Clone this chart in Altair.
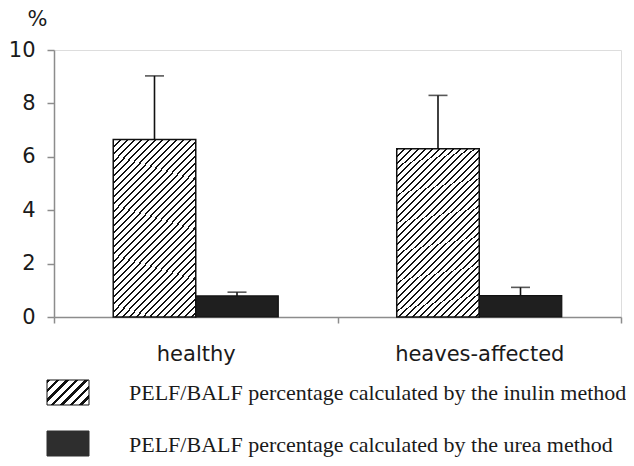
import altair as alt
import pandas as pd

# ---- data ----
groups = ["healthy", "heaves-affected"]
methods = ["inulin", "urea"]
mean_inulin = [6.65, 6.30]
upper_inulin = [9.03, 8.30]
mean_urea = [0.79, 0.80]
upper_urea = [0.93, 1.11]
legend_labels = [
    "PELF/BALF percentage calculated by the inulin method",
    "PELF/BALF percentage calculated by the urea method",
]
y_ticks = [0, 2, 4, 6, 8, 10]

rows = []
for g, m, u in zip(groups, mean_inulin, upper_inulin):
    rows.append({"group": g, "method": "inulin", "value": m, "upper": u})
for g, m, u in zip(groups, mean_urea, upper_urea):
    rows.append({"group": g, "method": "urea", "value": m, "upper": u})
df = pd.DataFrame(rows)
leg_df = pd.DataFrame({"method": methods, "label": legend_labels})


def hatch(w, h, period, line, ink="#111111", bg="#ffffff"):
    """45-degree '/' stripes as a hard-stop linear gradient (style only)."""
    c = (w + h) / (w * w + h * h)
    total = float(w + h)
    stops = []
    k = 0
    while k * period < total:
        a = k * period / total
        b = min((k * period + line) / total, 1.0)
        e = min((k + 1) * period / total, 1.0)
        stops += [
            {"offset": a, "color": ink},
            {"offset": b, "color": ink},
            {"offset": b, "color": bg},
            {"offset": e, "color": bg},
        ]
        k += 1
    return {"gradient": "linear", "x1": 0, "y1": 0, "x2": w * c, "y2": h * c, "stops": stops}


bar_hatch = hatch(83, 174, 7, 2)
swatch_hatch = hatch(42, 25, 9.5, 3.5)

AX_GREY = "#8c8c8c"
TXT = "#1a1a1a"

X = alt.X(
    "group:N",
    sort=groups,
    scale=alt.Scale(domain=groups, paddingInner=0, paddingOuter=0),
    axis=alt.Axis(
        title=None, labelAngle=0, labelFont="DejaVu Sans", labelFontSize=21,
        labelColor=TXT, labelPadding=20, tickBand="extent", tickSize=6,
        tickColor=AX_GREY, domainColor=AX_GREY, tickWidth=1.5, domainWidth=1.5,
    ),
)
XO = alt.XOffset(
    "method:N", sort=methods,
    scale=alt.Scale(domain=methods, paddingInner=0, paddingOuter=0.718),
)
Y = alt.Y(
    "value:Q",
    title="%",
    scale=alt.Scale(domain=[0, 10], nice=False, zero=True),
    axis=alt.Axis(
        values=y_ticks, grid=False, labelFont="DejaVu Sans", labelFontSize=21,
        labelColor=TXT, labelPadding=12, tickSize=7, tickColor=AX_GREY,
        domainColor=AX_GREY, tickWidth=1.5, domainWidth=1.5,
        titleAngle=0, titleX=-17, titleY=-25, titleAlign="center",
        titleBaseline="alphabetic", titleFont="DejaVu Sans", titleFontSize=21,
        titleFontWeight="normal", titleColor=TXT,
    ),
)

bars_inulin = (
    alt.Chart(df).transform_filter(alt.datum.method == "inulin")
    .mark_bar(fill=bar_hatch, stroke="#111111", strokeWidth=1.5)
    .encode(x=X, xOffset=XO, y=Y)
)
bars_urea = (
    alt.Chart(df).transform_filter(alt.datum.method == "urea")
    .mark_bar(fill="#1f1f1f", stroke="#111111", strokeWidth=1.2)
    .encode(x=X, xOffset=XO, y=Y)
)
err_line = (
    alt.Chart(df).mark_rule(color="#111111", strokeWidth=1.6)
    .encode(x=X, xOffset=XO, y=alt.Y("value:Q", title="%"), y2="upper:Q")
)
err_cap = (
    alt.Chart(df).mark_tick(color="#111111", thickness=1.6, size=19, orient="horizontal")
    .encode(x=X, xOffset=XO, y=alt.Y("upper:Q", title="%"))
)
main = alt.layer(bars_inulin, bars_urea, err_line, err_cap)

LY = alt.Y(
    "method:N", sort=methods, axis=None,
    scale=alt.Scale(domain=methods, range=[330, 406], paddingInner=0.51, paddingOuter=0),
)
sw_inulin = (
    alt.Chart(leg_df).transform_filter(alt.datum.method == "inulin")
    .mark_rect(fill=swatch_hatch, stroke="#111111", strokeWidth=1)
    .encode(x=alt.value(-7), x2=alt.value(35), y=LY)
)
sw_urea = (
    alt.Chart(leg_df).transform_filter(alt.datum.method == "urea")
    .mark_rect(fill="#2e2e2e", stroke="#2e2e2e", strokeWidth=1)
    .encode(x=alt.value(-7), x2=alt.value(35), y=LY)
)
leg_text = (
    alt.Chart(leg_df)
    .mark_text(align="left", baseline="alphabetic", dy=8, font="Liberation Serif",
               fontSize=22, color=TXT)
    .encode(x=alt.value(75), y=LY, text="label:N")
)
legend = alt.layer(sw_inulin, sw_urea, leg_text)

chart = (
    alt.layer(main, legend)
    .resolve_scale(y="independent")
    .properties(
        width=567, height=267,
        autosize=alt.AutoSizeParams(type="none"),
        padding={"left": 46, "top": 42, "right": 5, "bottom": 141},
    )
    .configure_view(stroke=None)
    .configure(background="white")
)

chart.save("out.html", embed_options={"renderer": "svg", "actions": False})
